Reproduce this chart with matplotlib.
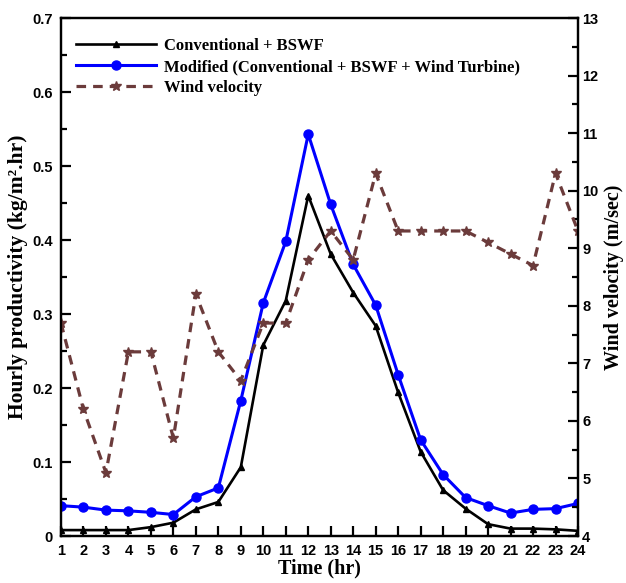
import numpy as np
import matplotlib
matplotlib.use("Agg")
import matplotlib.pyplot as plt
from matplotlib.ticker import MultipleLocator

# hourly data
hours = np.arange(1, 25)
conventional = [0.008, 0.008, 0.008, 0.008, 0.012, 0.018, 0.036, 0.046, 0.093, 0.258,
                0.318, 0.460, 0.381, 0.329, 0.284, 0.194, 0.114, 0.062, 0.037, 0.016,
                0.010, 0.010, 0.009, 0.007]
modified = [0.041, 0.039, 0.035, 0.034, 0.032, 0.029, 0.053, 0.065, 0.183, 0.315,
            0.398, 0.543, 0.448, 0.367, 0.312, 0.218, 0.130, 0.083, 0.052, 0.041,
            0.031, 0.036, 0.037, 0.044]
wind = [7.7, 6.2, 5.1, 7.2, 7.2, 5.7, 8.2, 7.2, 6.7, 7.7,
        7.7, 8.8, 9.3, 8.8, 10.3, 9.3, 9.3, 9.3, 9.3, 9.1,
        8.9, 8.7, 10.3, 9.3]

labels = ["Conventional + BSWF",
          "Modified (Conventional + BSWF + Wind Turbine)",
          "Wind velocity"]

serif = "Liberation Serif"
sans = "Liberation Sans"
wind_color = "#6b3b3b"

fig = plt.figure(figsize=(6.26, 5.83), dpi=100)
ax = fig.add_axes([0.0974, 0.0806, 0.8259, 0.8885])
ax2 = ax.twinx()

l1, = ax.plot(hours, conventional, color="black", lw=1.9, marker="^", ms=4.5)
l2, = ax.plot(hours, modified, color="#0000ff", lw=2.2, marker="o", ms=6.5)
l3, = ax2.plot(hours, wind, color=wind_color, lw=2.3, ls=(0, (3, 2.2)),
               marker="*", ms=7.5)

ax.set_xlim(1, 24)
ax.set_ylim(0, 0.7)
ax2.set_ylim(4, 13)

ax.xaxis.set_major_locator(MultipleLocator(1))
ax.yaxis.set_major_locator(MultipleLocator(0.1))
ax.yaxis.set_minor_locator(MultipleLocator(0.05))
ax2.yaxis.set_major_locator(MultipleLocator(1))
ax2.yaxis.set_minor_locator(MultipleLocator(0.5))
ax.set_yticklabels(["0" if v == 0 else f"{v:.1f}" for v in ax.get_yticks()])

for a in (ax, ax2):
    for s in a.spines.values():
        s.set_linewidth(1.6)
ax.tick_params(axis="both", which="major", direction="in", length=7, width=1.6)
ax.tick_params(axis="y", which="minor", direction="in", length=4, width=1.6)
ax.tick_params(axis="y", pad=6)
ax.tick_params(axis="x", pad=6)
ax2.tick_params(axis="y", which="major", direction="in", length=7, width=1.6, pad=3)
ax2.tick_params(axis="y", which="minor", direction="in", length=4, width=1.6)

for t in ax.get_xticklabels() + ax.get_yticklabels() + ax2.get_yticklabels():
    t.set_fontfamily(sans)
    t.set_fontweight("bold")
    t.set_fontsize(10.5)

ax.set_xlabel("Time (hr)", fontfamily=serif, fontweight="bold", fontsize=14.5, labelpad=0)
ax.set_ylabel("Hourly productivity (kg/m\u00b2.hr)", fontfamily=serif,
              fontweight="bold", fontsize=15.5, labelpad=3)
ax2.set_ylabel("Wind velocity (m/sec)", fontfamily=serif, fontweight="bold",
               fontsize=14.5, labelpad=4)

ax2.legend([l1, l2, l3], labels, loc="upper left", frameon=False,
           bbox_to_anchor=(0.0, 0.99), handlelength=4.8, handletextpad=0.5,
           labelspacing=0.3, borderaxespad=0.5,
           prop={"family": serif, "weight": "bold", "size": 12})

fig.savefig("out.png", dpi=100)
